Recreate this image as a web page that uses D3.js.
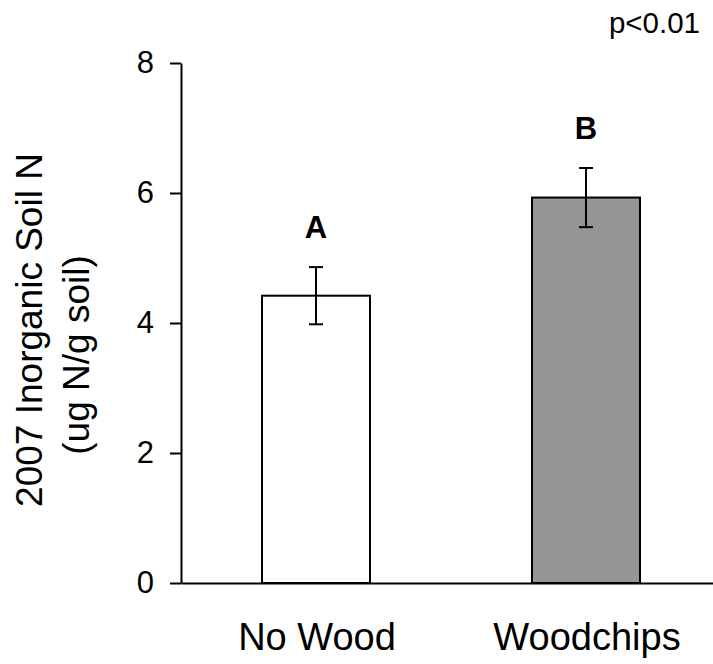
<!DOCTYPE html>
<html>
<head>
<meta charset="utf-8">
<script src="https://cdn.jsdelivr.net/npm/d3@7"></script>
<style>
  html, body { margin: 0; padding: 0; background: #fff; }
  svg { display: block; font-family: "Liberation Sans", Arial, sans-serif; }
</style>
</head>
<body>
<svg id="chart" width="713" height="664"></svg>
<script>
const categories = ["No Wood", "Woodchips"];
const means = [4.42, 5.93];
const errors = [0.44, 0.455];
const letters = ["A", "B"];
const barColors = ["#ffffff", "#969696"];
const yTicks = [0, 2, 4, 6, 8];
const yLabelLines = ["2007 Inorganic Soil N", "(ug N/g soil)"];
const pText = "p<0.01";

const svg = d3.select("#chart");
const y = d3.scaleLinear().domain([0, 8]).range([583, 63]);
const x = d3.scaleBand().domain(categories).range([181, 721]).paddingInner(0.6).paddingOuter(0.3);

// x axis line
const xAxis = svg.append("g").attr("transform", `translate(0,${y(0)})`)
  .call(d3.axisBottom(x).tickSize(0).tickSizeOuter(0).tickFormat(""));
xAxis.select(".domain").attr("stroke", "#000").attr("stroke-width", 2);

// bars
svg.append("g").selectAll("rect").data(categories).join("rect")
  .attr("x", d => x(d))
  .attr("y", (d, i) => y(means[i]))
  .attr("width", x.bandwidth())
  .attr("height", (d, i) => y(0) - y(means[i]))
  .attr("fill", (d, i) => barColors[i])
  .attr("stroke", "#000")
  .attr("stroke-width", 2);

// error bars
const eb = svg.append("g").attr("stroke", "#000").attr("stroke-width", 2);
categories.forEach((c, i) => {
  const cx = x(c) + x.bandwidth() / 2;
  eb.append("line").attr("x1", cx).attr("x2", cx)
    .attr("y1", y(means[i] + errors[i])).attr("y2", y(means[i] - errors[i]));
  [means[i] + errors[i], means[i] - errors[i]].forEach(v => {
    eb.append("line").attr("x1", cx - 7).attr("x2", cx + 7)
      .attr("y1", y(v)).attr("y2", y(v));
  });
});

// letters
svg.append("g").selectAll("text").data(categories).join("text")
  .attr("x", d => x(d) + x.bandwidth() / 2)
  .attr("y", (d, i) => y(means[i] + errors[i]) - 29)
  .attr("text-anchor", "middle")
  .attr("font-size", 31)
  .attr("font-weight", "bold")
  .text((d, i) => letters[i]);

// y axis
const yAxis = svg.append("g").attr("transform", "translate(181,0)")
  .call(d3.axisLeft(y).tickValues(yTicks).tickSize(11).tickSizeOuter(0).tickPadding(16));
yAxis.select(".domain").attr("stroke", "#000").attr("stroke-width", 2);
yAxis.selectAll(".tick line").attr("stroke", "#000").attr("stroke-width", 2);
yAxis.selectAll(".tick text").attr("font-size", 31).attr("fill", "#000")
  .attr("font-family", "Liberation Sans, Arial, sans-serif");

// x category labels
svg.append("g").selectAll("text").data(categories).join("text")
  .attr("x", d => x(d) + x.bandwidth() / 2 + 1)
  .attr("y", 650)
  .attr("text-anchor", "middle")
  .attr("font-size", 38)
  .text(d => d);

// y title
const yt = svg.append("text").attr("font-size", 37).attr("text-anchor", "middle")
  .attr("transform", "rotate(-90)");
yt.append("tspan").attr("x", -330).attr("y", 42).text(yLabelLines[0]);
yt.append("tspan").attr("x", -355).attr("y", 89).text(yLabelLines[1]);

// p value
svg.append("text").attr("x", 700).attr("y", 33).attr("text-anchor", "end")
  .attr("font-size", 29.5).text(pText);
</script>
</body>
</html>
